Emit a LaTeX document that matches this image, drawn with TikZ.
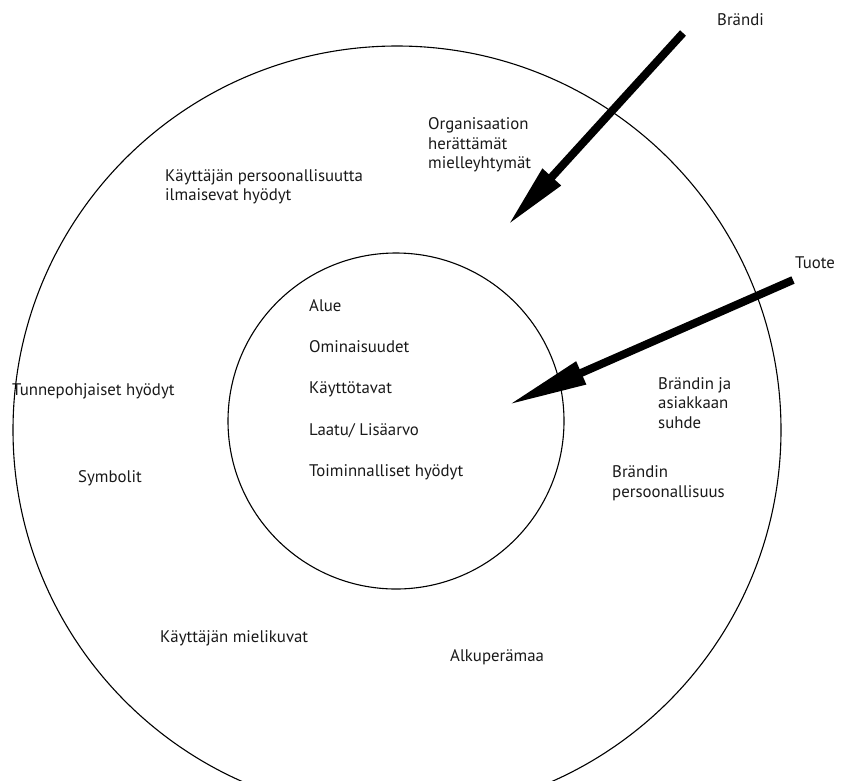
\documentclass[tikz,border=0pt]{standalone}
\usepackage{fontspec}
\setmainfont{PT Sans}
\usepackage{tikz}
\usetikzlibrary{arrows.meta}
\definecolor{inkgray}{RGB}{25,25,25}

\begin{document}
\begin{tikzpicture}[
    x=1pt, y=-1pt,
    ring/.style={draw, circle, line width=1.1pt, inner sep=0pt},
    lbl/.style={font=\fontsize{16.8}{19.5}\selectfont, text=inkgray, anchor=west, align=left, inner sep=0pt},
    bigarrow/.style={line width=8pt, -{Triangle[length=#1, width=23pt]}}
]
\useasboundingbox (0,0) rectangle (853,780);
\clip (0,0) rectangle (853,780);

% circles
\node[ring, minimum size=768pt] (outer) at (397,430) {};
\node[ring, minimum size=336pt] (inner) at (396,421) {};

% inner circle
\foreach \y/\txt [count=\i] in {306/Alue, 347/Ominaisuudet, 389/Käyttötavat,
    431/{Laatu/ Lisäarvo}, 472/Toiminnalliset hyödyt} {
    \node[lbl] (core\i) at (309,\y) {\txt};
}

% outer ring
\node[lbl] (org) at (428,145) {Organisaation\\herättämät\\mielleyhtymät};
\node[lbl] (persuser) at (165,187) {Käyttäjän persoonallisuutta\\ilmaisevat hyödyt};
\node[lbl] (tunne) at (12,391) {Tunnepohjaiset hyödyt};
\node[lbl] (symbolit) at (78,478) {Symbolit};
\node[lbl] (mielikuvat) at (160,638) {Käyttäjän mielikuvat};
\node[lbl] (alkupera) at (450,657) {Alkuperämaa};
\node[lbl] (suhde) at (658,403) {Brändin ja\\asiakkaan\\suhde};
\node[lbl] (brpers) at (612,483) {Brändin\\persoonallisuus};

% arrows
\node[lbl] (brandi) at (717,20) {Brändi};
\node[lbl] (tuote) at (795,263) {Tuote};
\coordinate (brandiTail) at (683,33);
\coordinate (brandiTip) at (508,225);
\coordinate (tuoteTail) at (793,280);
\coordinate (tuoteTip) at (508,405);
\draw[bigarrow=65pt] (brandiTail) -- (brandiTip);
\draw[bigarrow=80pt] (tuoteTail) -- (tuoteTip);

\end{tikzpicture}
\end{document}
